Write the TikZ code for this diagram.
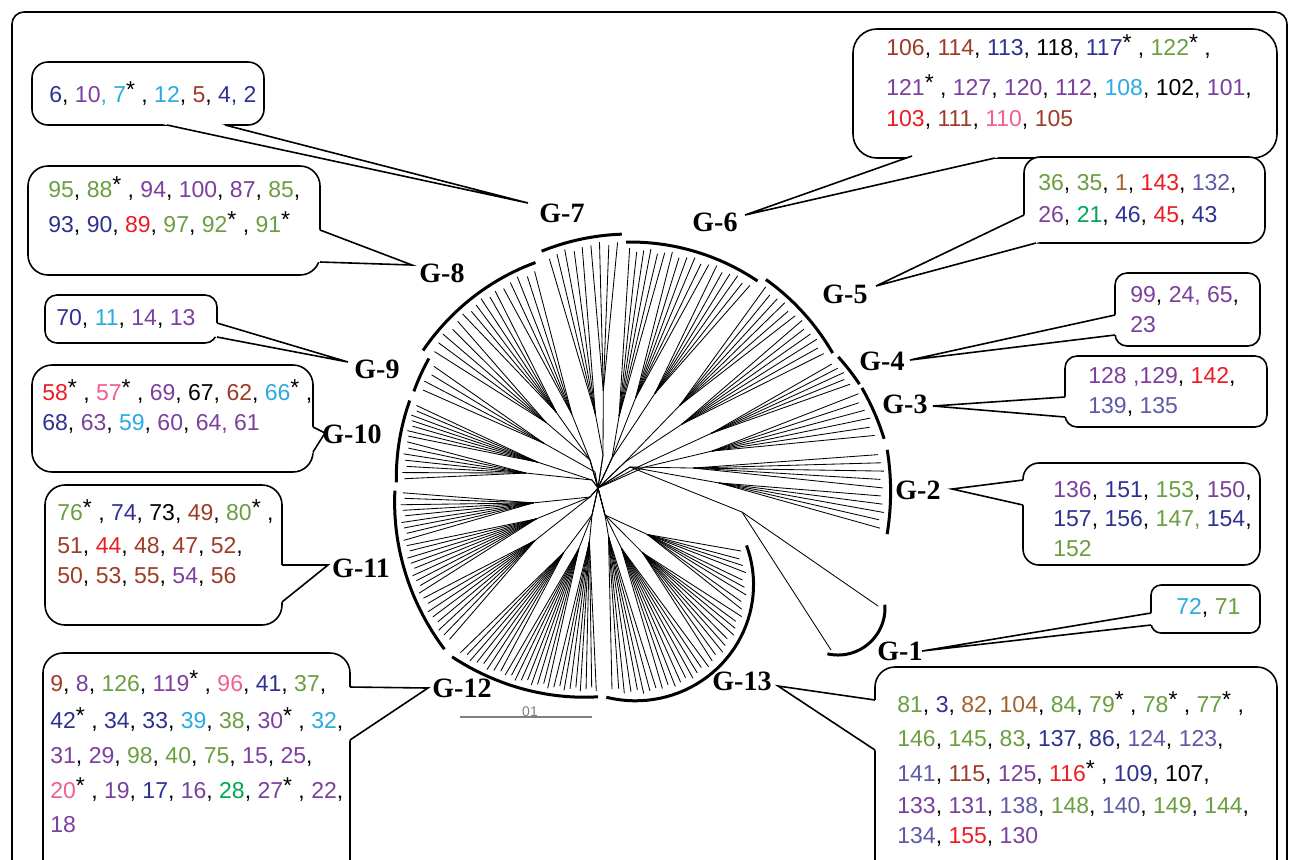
\documentclass[tikz,border=0pt]{standalone}
\usepackage{fontspec}
\setmainfont{Liberation Sans}
\newfontfamily\gfont{Liberation Serif}
\usetikzlibrary{calc}
\definecolor{cnavy}{HTML}{2E3192}
\definecolor{cpurple}{HTML}{7B3F9D}
\definecolor{ccyan}{HTML}{29ABE2}
\definecolor{cbrown}{HTML}{9E3B26}
\definecolor{cgreen}{HTML}{6A9E3F}
\definecolor{cred}{HTML}{ED1C24}
\definecolor{cpink}{HTML}{F0608F}
\definecolor{cbgreen}{HTML}{00A651}
\definecolor{corange}{HTML}{A2622C}
\definecolor{cslate}{HTML}{5E5AA8}
\newcommand\qn[1]{\textcolor{cnavy}{#1}}
\newcommand\qp[1]{\textcolor{cpurple}{#1}}
\newcommand\qc[1]{\textcolor{ccyan}{#1}}
\newcommand\qb[1]{\textcolor{cbrown}{#1}}
\newcommand\qg[1]{\textcolor{cgreen}{#1}}
\newcommand\qr[1]{\textcolor{cred}{#1}}
\newcommand\qk[1]{\textcolor{cpink}{#1}}
\newcommand\qe[1]{\textcolor{cbgreen}{#1}}
\newcommand\qo[1]{\textcolor{corange}{#1}}
\newcommand\qs[1]{\textcolor{cslate}{#1}}
\newcommand\qa{\raisebox{0.2em}{*}}
% group arc
\newcommand\garc{\draw[arcline] plot[domain=\gaa:\gab, samples=40, variable=\t] ({\gcx+(\gra+(\grb-\gra)*(\t-\gaa)/(\gab-\gaa))*cos(\t)},{\gcy-(\gra+(\grb-\gra)*(\t-\gaa)/(\gab-\gaa))*sin(\t)});}
% fan of leaves: hubx huby a1 a2 n frac
\newcommand\fan[6]{%
  \pgfmathsetmacro\fmid{(#3+#4)/2}%
  \pgfmathsetmacro\frm{\gra+(\grb-\gra)*(\fmid-\gaa)/(\gab-\gaa)-\ggap}%
  \pgfmathsetmacro\fsx{#1+#6*(\gcx+\frm*cos(\fmid)-#1)}%
  \pgfmathsetmacro\fsy{#2+#6*(\gcy-\frm*sin(\fmid)-#2)}%
  \draw[leaf] (598,488) -- (#1,#2) -- (\fsx,\fsy);%
  \foreach \k in {1,...,#5}{%
    \pgfmathsetmacro\fa{#3+(\k-0.5)*(#4-#3)/#5}%
    \pgfmathsetmacro\fr{\gra+(\grb-\gra)*(\fa-\gaa)/(\gab-\gaa)-\ggap-2*mod(\k,3)}%
    \draw[leaf] (\fsx,\fsy) -- ({\gcx+\fr*cos(\fa)},{\gcy-\fr*sin(\fa)});%
  }%
}
\newcommand\setg[7]{\def\gcx{#1}\def\gcy{#2}\def\gra{#3}\def\grb{#4}\def\gaa{#5}\def\gab{#6}\def\ggap{#7}}
% bubble: x1 y1 x2 y2 p q tip
\newcommand\bub[8][8pt]{%
  \draw[bubble, rounded corners=#1] (#2,#3) rectangle (#4,#5);
  \fill[white] ($(#6)!-3pt!(#8)$) -- (#8) -- ($(#7)!-3pt!(#8)$) -- cycle;
  \draw[bline] (#6) -- (#8) -- (#7);
}
\begin{document}
\begin{tikzpicture}[x=0.5pt,y=-0.5pt,
  leaf/.style={line width=0.42pt, black},
  arcline/.style={line width=1.5pt, black},
  bubble/.style={draw=black, line width=0.8pt, fill=white},
  bline/.style={black, line width=0.8pt, line join=miter},
  txt/.style={anchor=base west, inner sep=0pt, font=\fontsize{11.5pt}{14pt}\selectfont},
  glab/.style={anchor=base, inner sep=0pt, font=\gfont\bfseries\fontsize{14pt}{16pt}\selectfont}]
\useasboundingbox (0,0) rectangle (1290,859);
\clip (0,0) rectangle (1290,859);
\fill[white] (0,0) rectangle (1290,859);
\draw[line width=0.8pt, rounded corners=6pt] (12,12) rectangle (1287,900);

% ---------- tree ----------
% G-7
\setg{630}{470}{236}{236}{92}{112}{6}\garc
\fan{603}{455}{92}{101}{4}{0.3}
\fan{603}{455}{101}{112}{5}{0.2}
% G-6
\setg{630}{470}{228}{228}{56}{91}{6}\garc
\fan{612}{458}{56}{68}{6}{0.35}
\fan{612}{458}{68}{80}{6}{0.3}
\fan{612}{458}{80}{91}{6}{0.2}
% G-5
\setg{630}{470}{234}{234}{30}{54.5}{6}\garc
\fan{625}{462}{30}{42}{6}{0.3}
\fan{625}{462}{42}{54.5}{6}{0.35}
% G-4
\setg{630}{470}{245}{237}{20.5}{28.5}{6}\garc
\fan{640}{466}{20.5}{28.5}{5}{0.35}
% G-3
\setg{630}{470}{256}{246}{7}{19.5}{6}\garc
\fan{645}{467}{7}{19.5}{6}{0.3}
% G-2
\setg{630}{470}{265}{258}{-14}{4.5}{6}\garc
\fan{630}{467}{-14}{-5}{5}{0.35}
\fan{630}{467}{-5}{4.5}{5}{0.25}
% G-1
\setg{838}{608}{47}{47}{-103}{4}{4}\garc
\coordinate (n1) at (742,512);
\draw[leaf] (630,467) -- (n1) -- (878,606);
\draw[leaf] (n1) -- (831,650);
% G-13
\setg{640}{580}{122}{112}{-106}{18}{7}\garc
\fan{605}{515}{-106}{-80}{8}{0.12}
\fan{605}{515}{-80}{-50}{9}{0.2}
\fan{605}{515}{-50}{-18}{9}{0.3}
\fan{605}{515}{-18}{18}{9}{0.3}
% G-12
\setg{630}{470}{258}{229}{226.4}{262}{6}\garc
\fan{592}{515}{226.4}{238}{8}{0.25}
\fan{592}{515}{238}{250}{9}{0.2}
\fan{592}{515}{250}{262}{9}{0.15}
% G-11
\setg{630}{470}{236}{258}{185}{224}{6}\garc
\fan{590}{497}{185}{198}{9}{0.3}
\fan{590}{497}{198}{211}{9}{0.3}
\fan{590}{497}{211}{224}{8}{0.35}
% G-10
\setg{630}{470}{231}{234}{162.5}{183}{6}\garc
\fan{592}{480}{162.5}{172}{7}{0.3}
\fan{592}{480}{172}{183}{7}{0.35}
% G-9
\setg{630}{470}{230}{230}{151}{160}{6}\garc
\fan{595}{472}{151}{160}{4}{0.3}
% G-8
\setg{630}{470}{228}{239}{114.5}{150}{6}\garc
\fan{590}{460}{114.5}{126}{5}{0.25}
\fan{590}{460}{126}{138}{6}{0.3}
\fan{590}{460}{138}{150}{5}{0.3}

% scale bar
\coordinate (sb1) at (460,717);
\coordinate (sb2) at (592,717);
\draw[gray, line width=0.6pt] (sb1) -- (sb2);
\node[gray, inner sep=0pt, anchor=base, font=\fontsize{7pt}{8pt}\selectfont] (sbl) at (530,716) {01};

% ---------- callouts ----------
\coordinate (t7) at (528,203); \coordinate (p7) at (167,125); \coordinate (q7) at (225,125);
\bub{32}{62}{264}{125}{p7}{q7}{t7}
\coordinate (t6) at (745,215); \coordinate (p6) at (912,156); \coordinate (q6) at (995,158);
\bub[12pt]{853}{29}{1277}{158}{p6}{q6}{t6}
\coordinate (t5) at (876,286); \coordinate (p5) at (1024,215); \coordinate (q5) at (1036,243);
\bub{1024}{157}{1265}{243}{p5}{q5}{t5}
\coordinate (t4) at (910,360); \coordinate (p4) at (1115,315); \coordinate (q4) at (1115,335);
\bub[6pt]{1115}{273}{1260}{346}{p4}{q4}{t4}
\coordinate (t3) at (933,406); \coordinate (p3) at (1065,397); \coordinate (q3) at (1065,417);
\bub[6pt]{1065}{356}{1267}{427}{p3}{q3}{t3}
\coordinate (t2) at (952,489); \coordinate (p2) at (1023,480); \coordinate (q2) at (1023,505);
\bub{1023}{463}{1260}{565}{p2}{q2}{t2}
\coordinate (t1) at (922,651); \coordinate (p1) at (1151,613); \coordinate (q1) at (1151,625);
\bub[5pt]{1151}{585}{1260}{633}{p1}{q1}{t1}
\coordinate (t13) at (778,686); \coordinate (p13) at (875,700); \coordinate (q13) at (875,750);
\bub[10pt]{875}{667}{1277}{880}{p13}{q13}{t13}
\coordinate (t12) at (428,688); \coordinate (p12) at (350,687); \coordinate (q12) at (350,740);
\bub[10pt]{43}{653}{350}{880}{p12}{q12}{t12}
\coordinate (t11) at (328,565); \coordinate (p11) at (282,565); \coordinate (q11) at (282,602);
\bub[10pt]{45}{485}{282}{625}{p11}{q11}{t11}
\coordinate (t10) at (325,433); \coordinate (p10) at (313,427); \coordinate (q10) at (313,452);
\bub[10pt]{32}{365}{313}{472}{p10}{q10}{t10}
\coordinate (t9) at (348,362); \coordinate (p9) at (217,323); \coordinate (q9) at (217,337);
\bub[6pt]{45}{295}{217}{343}{p9}{q9}{t9}
\coordinate (t8) at (412,265); \coordinate (p8) at (320,230); \coordinate (q8) at (320,262);
\bub[10pt]{28}{166}{320}{275}{p8}{q8}{t8}

% ---------- group labels ----------
\node[glab] (g7) at (562,222) {G-7};
\node[glab] (g6) at (715,231) {G-6};
\node[glab] (g5) at (845,303) {G-5};
\node[glab] (g4) at (882,370) {G-4};
\node[glab] (g3) at (905,413) {G-3};
\node[glab] (g2) at (918,499) {G-2};
\node[glab] (g1) at (900,660) {G-1};
\node[glab] (g13) at (742,690) {G-13};
\node[glab] (g12) at (462,697) {G-12};
\node[glab] (g11) at (361,577) {G-11};
\node[glab] (g10) at (352,443) {G-10};
\node[glab] (g9) at (377,378) {G-9};
\node[glab] (g8) at (442,282) {G-8};

% ---------- texts ----------
\node[txt] (c7) at (49,102) {\qn{6}, \qp{10}\qc{, 7}\qa{} , \qc{12}, \qb{5}, \qn{4, 2}};

\node[txt] (c6a) at (886,55) {\qb{106}, \qb{114}, \qn{113}, 118, \qn{117}\qa{} , \qg{122}\qa{} ,};
\node[txt] (c6b) at (886,95) {\qp{121}\qa{} , \qp{127}, \qp{120}, \qp{112}, \qc{108}, 102, \qp{101},};
\node[txt] (c6c) at (886,126) {\qr{103}, \qb{111}, \qk{110}, \qb{105}};

\node[txt] (c5a) at (1038,190) {\qg{36}, \qg{35}, \qo{1}, \qr{143}, \qs{132},};
\node[txt] (c5b) at (1038,222) {\qp{26}, \qe{21}, \qn{46}, \qr{45}, \qn{43}};

\node[txt] (c4a) at (1130,302) {\qp{99}, \qp{24, 65},};
\node[txt] (c4b) at (1130,332) {\qp{23}};

\node[txt] (c3a) at (1088,383) {\qp{128 ,129}, \qr{142},};
\node[txt] (c3b) at (1088,413) {\qs{139}, \qs{135}};

\node[txt] (c2a) at (1053,497) {\qp{136}, \qn{151}, \qg{153}, \qp{150},};
\node[txt] (c2b) at (1053,526) {\qn{157}, \qn{156}, \qg{147,} \qn{154},};
\node[txt] (c2c) at (1053,556) {\qg{152}};

\node[txt] (c1) at (1176,614) {\qc{72}, \qg{71}};

\node[txt] (c13a) at (897,712) {\qg{81}, \qn{3}, \qo{82}, \qo{104}, \qg{84}, \qg{79}\qa{} , \qg{78}\qa{} , \qg{77}\qa{} ,};
\node[txt] (c13b) at (897,746) {\qg{146}, \qg{145}, \qg{83}, \qn{137}, \qn{86}, \qs{124}, \qs{123},};
\node[txt] (c13c) at (897,781) {\qs{141}, \qb{115}, \qp{125}, \qr{116}\qa{} , \qn{109}, 107,};
\node[txt] (c13d) at (897,813) {\qp{133}, \qp{131}, \qs{138}, \qg{148}, \qs{140}, \qg{149}, \qg{144},};
\node[txt] (c13e) at (897,843) {\qs{134}, \qr{155}, \qp{130}};

\node[txt] (c12a) at (50,691) {\qb{9}, \qp{8}, \qg{126}, \qp{119}\qa{} , \qk{96}, \qn{41}, \qg{37},};
\node[txt] (c12b) at (50,728) {\qn{42}\qa{} , \qn{34}, \qn{33}, \qc{39}, \qg{38}, \qp{30}\qa{} , \qc{32},};
\node[txt] (c12c) at (50,763) {\qp{31}, \qp{29}, \qg{98}, \qg{40}, \qg{75}, \qp{15}, \qp{25},};
\node[txt] (c12d) at (50,798) {\qk{20}\qa{} , \qp{19}, \qn{17}, \qp{16}, \qe{28}, \qp{27}\qa{} , \qp{22},};
\node[txt] (c12e) at (50,832) {\qp{18}};

\node[txt] (c11a) at (57,520) {\qg{76}\qa{} , \qn{74}, 73, \qb{49}, \qg{80}\qa{} ,};
\node[txt] (c11b) at (57,553) {\qb{51}, \qr{44}, \qb{48}, \qb{47}, \qb{52},};
\node[txt] (c11c) at (57,583) {\qb{50}, \qb{53}, \qb{55}, \qp{54}, \qb{56}};

\node[txt] (c10a) at (42,400) {\qr{58}\qa{} , \qk{57}\qa{} , \qp{69}, 67, \qb{62}, \qc{66}\qa{} ,};
\node[txt] (c10b) at (42,430) {\qn{68}, \qp{63}, \qc{59}, \qp{60}, \qp{64, 61}};

\node[txt] (c9) at (56,325) {\qn{70}, \qc{11}, \qp{14}, \qp{13}};

\node[txt] (c8a) at (48,197) {\qg{95}, \qg{88}\qa{} , \qp{94}, \qp{100}, \qp{87}, \qg{85},};
\node[txt] (c8b) at (48,232) {\qn{93}, \qn{90}, \qr{89}, \qg{97}, \qg{92}\qa{} , \qg{91}\qa{}};
\end{tikzpicture}
\end{document}
